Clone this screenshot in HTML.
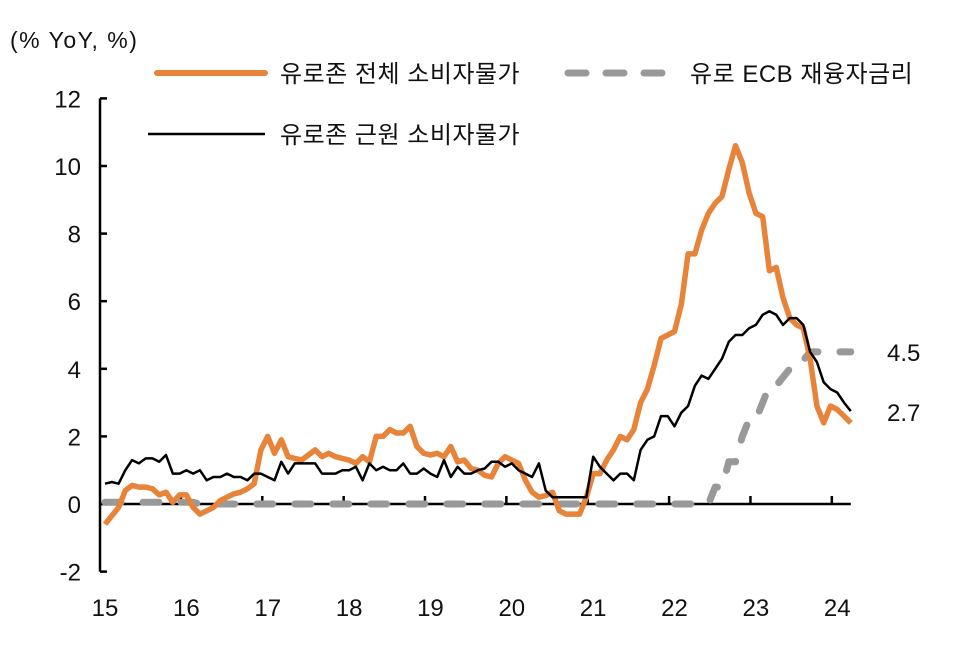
<!DOCTYPE html>
<html><head><meta charset="utf-8"><style>
html,body{margin:0;padding:0;background:#fff;}
svg text{font-family:"Liberation Sans","Noto Sans CJK KR","NanumGothic",sans-serif;fill:#111;}
</style></head><body>
<svg id="chart" width="961" height="647" viewBox="0 0 961 647" xmlns="http://www.w3.org/2000/svg">
<text x="10" y="48" font-size="23" letter-spacing="1.5">(% YoY, %)</text>
<g>
 <line x1="157" y1="73" x2="265" y2="73" stroke="#E8833A" stroke-width="6" stroke-linecap="round"/>
 <text x="280" y="82" font-size="24" letter-spacing="0.5">유로존 전체 소비자물가</text>
 <line x1="568" y1="73" x2="682" y2="73" stroke="#999" stroke-width="7" stroke-dasharray="18 20" stroke-linecap="round"/>
 <text x="690" y="82" font-size="24" letter-spacing="0.5">유로 ECB 재융자금리</text>
 <line x1="148" y1="134" x2="265" y2="134" stroke="#000" stroke-width="2.5"/>
 <text x="280" y="143" font-size="24" letter-spacing="0.5">유로존 근원 소비자물가</text>
</g>
<g id="axes"></g>
<g id="series"></g>
<text x="887" y="361" font-size="24">4.5</text>
<text x="887" y="421" font-size="24">2.7</text>
</svg>
<script>
const yearLabels=["15","16","17","18","19","20","21","22","23","24"];
const yTicks=[-2,0,2,4,6,8,10,12];
const headline=[-0.6,-0.35,-0.1,0.4,0.55,0.5,0.5,0.45,0.27,0.35,0.05,0.27,
0.27,-0.1,-0.3,-0.2,-0.1,0.1,0.2,0.3,0.35,0.45,0.6,1.6,
2.0,1.5,1.9,1.4,1.35,1.3,1.45,1.6,1.4,1.5,1.4,1.35,
1.3,1.2,1.4,1.25,2.0,2.0,2.2,2.1,2.1,2.3,1.7,1.5,
1.45,1.5,1.4,1.7,1.25,1.3,1.05,1.0,0.85,0.8,1.2,1.4,
1.3,1.2,0.7,0.35,0.2,0.25,0.35,-0.2,-0.3,-0.3,-0.3,0.2,
0.9,0.9,1.3,1.6,2.0,1.9,2.2,3.0,3.4,4.1,4.9,5.0,
5.1,5.9,7.4,7.4,8.1,8.6,8.9,9.1,9.9,10.6,10.1,9.2,
8.6,8.5,6.9,7.0,6.1,5.5,5.3,5.2,4.3,2.9,2.4,2.9,
2.8,2.6,2.4];
const core=[0.6,0.65,0.6,1.0,1.3,1.2,1.35,1.35,1.25,1.45,0.9,0.9,
1.0,0.9,1.0,0.7,0.8,0.8,0.9,0.8,0.8,0.7,0.9,0.9,
0.8,0.7,1.25,0.9,1.2,1.2,1.2,1.2,0.9,0.9,0.9,1.0,
1.0,1.1,0.7,1.2,1.0,1.1,1.0,1.0,1.2,0.9,0.9,1.05,
0.9,0.8,1.3,0.8,1.1,0.9,0.9,1.0,1.05,1.25,1.25,1.1,
1.2,1.0,0.9,0.8,1.2,0.4,0.2,0.2,0.2,0.2,0.2,0.2,
1.4,1.1,0.9,0.7,0.9,0.9,0.7,1.6,1.9,2.0,2.6,2.6,
2.3,2.7,2.9,3.5,3.8,3.7,4.0,4.3,4.8,5.0,5.0,5.2,
5.3,5.6,5.7,5.6,5.3,5.5,5.5,5.3,4.5,4.2,3.6,3.4,
3.3,3.0,2.75];
const rate=[0.05,0.05,0.05,0.05,0.05,0.05,0.05,0.05,0.05,0.05,0.05,0.05,
0.05,0.05,0,0,0,0,0,0,0,0,0,0,
0,0,0,0,0,0,0,0,0,0,0,0,
0,0,0,0,0,0,0,0,0,0,0,0,
0,0,0,0,0,0,0,0,0,0,0,0,
0,0,0,0,0,0,0,0,0,0,0,0,
0,0,0,0,0,0,0,0,0,0,0,0,
0,0,0,0,0,0,0.5,0.5,1.25,1.25,2.0,2.5,
2.5,3.0,3.5,3.5,3.75,4.0,4.0,4.25,4.5,4.5,4.5,4.5,
4.5,4.5,4.5];
const NS="http://www.w3.org/2000/svg";
const x0=105,pxPerMonth=6.78;
function xScale(m){return x0+m*pxPerMonth;}
function yScale(v){return 504-v*33.8;}
function mk(tag,attrs,parent){const e=document.createElementNS(NS,tag);for(const k in attrs)e.setAttribute(k,attrs[k]);parent.appendChild(e);return e;}
const axes=document.getElementById('axes');
const ya=mk('line',{x1:100,y1:yScale(12),x2:100,y2:yScale(-2),stroke:'#000','stroke-width':2.5},axes);


yTicks.forEach(v=>{
 const t=mk('line',{x1:100,x2:107,y1:yScale(v),y2:yScale(v),stroke:'#000','stroke-width':2.5},axes);
 
 
 const l=mk('text',{x:81,y:yScale(v)+9,'text-anchor':'end','font-size':24},axes);
 l.textContent=String(v);
 
 
});
const xa=mk('line',{x1:100,y1:yScale(0),x2:xScale(headline.length-1),y2:yScale(0),stroke:'#000','stroke-width':2.5},axes);


yearLabels.forEach((lab,i)=>{
 const m=i*12;
 if(i>0){
  const t=mk('line',{x1:xScale(m-0.8),x2:xScale(m-0.8),y1:yScale(0),y2:yScale(0)-8,stroke:'#000','stroke-width':2.5},axes);
  
  
 }
 const l=mk('text',{x:xScale(m),y:616,'text-anchor':'middle','font-size':24},axes);
 l.textContent=lab;
 
 
});
function pts(arr){return arr.map((v,i)=>xScale(i).toFixed(1)+','+yScale(v).toFixed(1)).join(' ');}
const ser=document.getElementById('series');
const r=mk('polyline',{points:pts(rate),fill:'none',stroke:'#999','stroke-width':7,'stroke-dasharray':'16 22','stroke-linecap':'round','stroke-linejoin':'round'},ser);


const h=mk('polyline',{points:pts(headline),fill:'none',stroke:'#E8833A','stroke-width':5.5,'stroke-linejoin':'round'},ser);


const c=mk('polyline',{points:pts(core),fill:'none',stroke:'#000','stroke-width':2.5,'stroke-linejoin':'round'},ser);


</script>
</body></html>
